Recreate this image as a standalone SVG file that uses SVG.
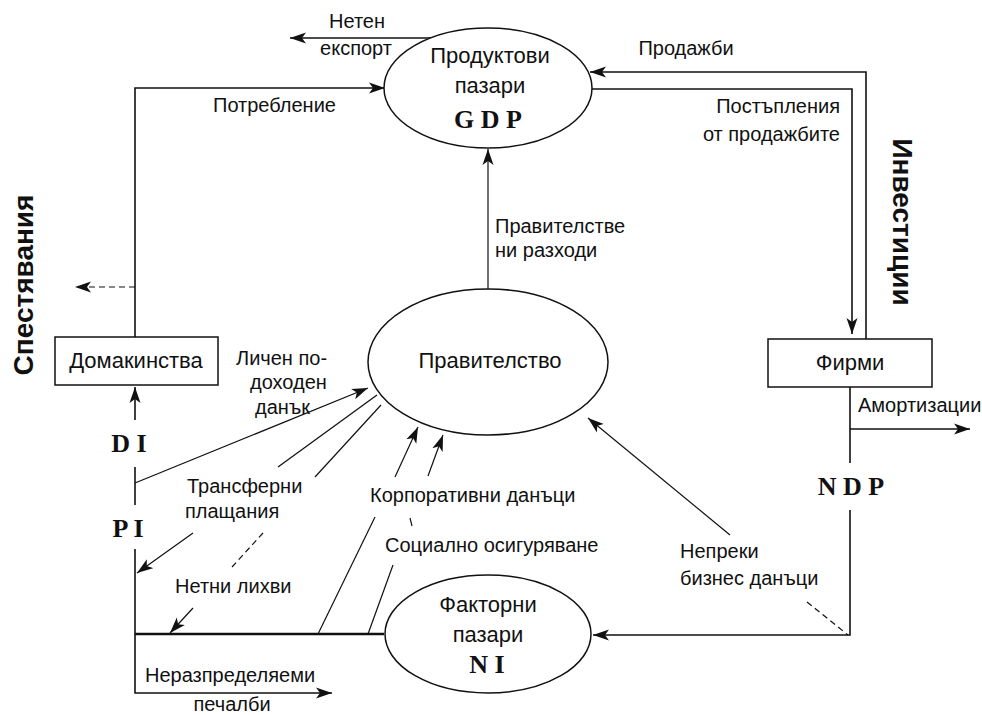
<svg xmlns="http://www.w3.org/2000/svg" width="982" height="715" viewBox="0 0 982 715">
<style>
text{font-family:"Liberation Sans","Noto Sans",sans-serif;fill:#111}
.lbl{font-size:20px}
.node{font-size:22px}
.big{font-family:"Liberation Serif",serif;font-weight:bold;font-size:26px}
.side{font-size:28px;font-weight:bold}
.ln{fill:none;stroke:#111;stroke-width:1.6}
.thin{fill:none;stroke:#111;stroke-width:1.2}
.thick{fill:none;stroke:#111;stroke-width:2.6}
.dash{fill:none;stroke:#111;stroke-width:1.2;stroke-dasharray:6 4}
.shape{fill:#fff;stroke:#111;stroke-width:1.5}
</style>
<defs>
<marker id="ah" markerUnits="userSpaceOnUse" markerWidth="18" markerHeight="12" refX="16" refY="6" orient="auto">
<path d="M0,0.5 L16,6 L0,11.5 L4,6 z" fill="#111"/>
</marker>
</defs>
<rect width="982" height="715" fill="#fff"/>

<g id="connectors">
<path class="ln" d="M432,38 H290" marker-end="url(#ah)"/>
<path class="ln" d="M135,337 V88 H385" marker-end="url(#ah)"/>
<path class="ln" d="M866,339 V72 H590" marker-end="url(#ah)"/>
<path class="ln" d="M592,89 H852 V334" marker-end="url(#ah)"/>
<path class="thin" d="M488,290 V149" marker-end="url(#ah)"/>
<path class="dash" d="M135,287 H75" marker-end="url(#ah)"/>
<path class="ln" d="M135,420 V387" marker-end="url(#ah)"/>
<path class="ln" d="M135,467 V505"/>
<path class="thin" d="M135,483 L368,388" marker-end="url(#ah)"/>
<path class="thin" d="M377,395 L278,467"/>
<path class="thin" d="M193,533 L137,573" marker-end="url(#ah)"/>
<path class="thin" d="M381,405 L315,477"/>
<path class="dash" d="M263,533 L232,567"/>
<path class="thin" d="M193,608 L170,633" marker-end="url(#ah)"/>
<path class="ln" d="M135,549 V693 H332" marker-end="url(#ah)"/>
<path class="thick" d="M135,634 H384"/>
<path class="thin" d="M318,634 L375,517"/>
<path class="thin" d="M395,477 L418,427" marker-end="url(#ah)"/>
<path class="thin" d="M368,634 L393,565"/>
<path class="thin" d="M410,518 L412,526"/>
<path class="thin" d="M428,476 L443,435" marker-end="url(#ah)"/>
<path class="thin" d="M730,535 L588,418" marker-end="url(#ah)"/>
<path class="dash" d="M807,602 L848,635"/>
<path class="ln" d="M850,387 V463"/>
<path class="ln" d="M850,429 H970" marker-end="url(#ah)"/>
<path class="ln" d="M850,510 V635 H593" marker-end="url(#ah)"/>
</g>

<g id="product-markets">
<ellipse class="shape" cx="488" cy="88" rx="104" ry="60"/>
<text class="node" x="490" y="63" text-anchor="middle">Продуктови</text>
<text class="node" x="490" y="93" text-anchor="middle">пазари</text>
<text class="big" x="488" y="128" text-anchor="middle">G D P</text>
</g>

<g id="government">
<ellipse class="shape" cx="488" cy="362" rx="120" ry="73"/>
<text class="node" x="490" y="368" text-anchor="middle">Правителство</text>
</g>

<g id="factor-markets">
<ellipse class="shape" cx="488" cy="634" rx="103" ry="59"/>
<text class="node" x="488" y="612" text-anchor="middle">Факторни</text>
<text class="node" x="488" y="642" text-anchor="middle">пазари</text>
<text class="big" x="487" y="673" text-anchor="middle">N I</text>
</g>

<g id="households">
<rect class="shape" x="55" y="337" width="163" height="48"/>
<text class="node" x="136" y="368" text-anchor="middle">Домакинства</text>
</g>

<g id="firms">
<rect class="shape" x="768" y="339" width="164" height="48"/>
<text class="node" x="850" y="370" text-anchor="middle">Фирми</text>
</g>

<g id="labels">
<text class="lbl" x="357" y="28" text-anchor="middle">Нетен</text>
<text class="lbl" x="356" y="55" text-anchor="middle">експорт</text>
<text class="lbl" x="686" y="55" text-anchor="middle">Продажби</text>
<text class="lbl" x="840" y="113" text-anchor="end">Постъпления</text>
<text class="lbl" x="840" y="141" text-anchor="end">от продажбите</text>
<text class="lbl" x="213" y="112">Потребление</text>
<text class="lbl" x="495" y="233">Правителстве</text>
<text class="lbl" x="495" y="257">ни разходи</text>
<text class="lbl" x="236" y="365">Личен по-</text>
<text class="lbl" x="250" y="389">доходен</text>
<text class="lbl" x="255" y="414">данък</text>
<text class="lbl" x="858" y="412">Амортизации</text>
<text class="big" x="851" y="495" text-anchor="middle">N D P</text>
<text class="big" x="129" y="452" text-anchor="middle">D I</text>
<text class="big" x="128" y="537" text-anchor="middle">P I</text>
<text class="lbl" x="187" y="493">Трансферни</text>
<text class="lbl" x="185" y="518">плащания</text>
<text class="lbl" x="175" y="593">Нетни лихви</text>
<text class="lbl" x="145" y="682">Неразпределяеми</text>
<text class="lbl" x="232" y="711" text-anchor="middle">печалби</text>
<text class="lbl" x="370" y="502">Корпоративни данъци</text>
<text class="lbl" x="385" y="552">Социално осигуряване</text>
<text class="lbl" x="680" y="558">Непреки</text>
<text class="lbl" x="680" y="585">бизнес данъци</text>
<text class="side" transform="translate(33,285) rotate(-90)" text-anchor="middle">Спестявания</text>
<text class="side" transform="translate(893,222) rotate(90)" text-anchor="middle">Инвестиции</text>
</g>
</svg>
